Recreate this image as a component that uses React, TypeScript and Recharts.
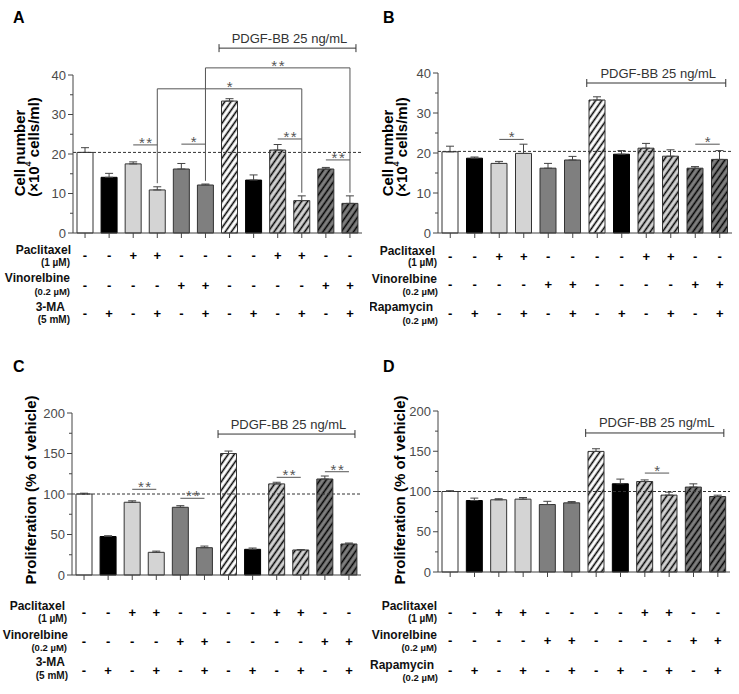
import React from 'react'
import { BarChart, Bar, XAxis, YAxis, Cell, ErrorBar, ReferenceLine } from 'recharts'

const FONT = 'Arial, "Liberation Sans", Helvetica, sans-serif'

// treatment groups, left to right
const groups = ['G1', 'G2', 'G3', 'G4', 'G5', 'G6', 'G7', 'G8', 'G9', 'G10', 'G11', 'G12']
const paclitaxelSigns = ['-', '-', '+', '+', '-', '-', '-', '-', '+', '+', '-', '-']
const vinorelbineSigns = ['-', '-', '-', '-', '+', '+', '-', '-', '-', '-', '+', '+']
const inhibitorSigns = ['-', '+', '-', '+', '-', '+', '-', '+', '-', '+', '-', '+']
const barKinds = ['white', 'black', 'light', 'light', 'mid', 'mid', 'hatchWhite', 'black', 'hatchLight', 'hatchLight', 'hatchMid', 'hatchMid']

// A: cell number with 3-MA
const cellNumber3MA = [20.4, 14.1, 17.5, 10.9, 16.2, 12.15, 33.4, 13.4, 21.0, 8.2, 16.2, 7.5]
const cellNumber3MAErr = [1.2, 1.0, 0.5, 0.8, 1.4, 0.25, 0.6, 1.3, 1.4, 1.2, 0.4, 1.9]
// B: cell number with rapamycin
const cellNumberRapa = [20.3, 18.7, 17.4, 19.9, 16.2, 18.25, 33.25, 19.7, 21.2, 19.2, 16.2, 18.4]
const cellNumberRapaErr = [1.4, 0.3, 0.5, 2.3, 1.2, 0.9, 0.8, 0.9, 1.2, 1.6, 0.4, 2.2]
// C: proliferation with 3-MA
const prolif3MA = [100, 47.5, 89.8, 28, 83.6, 33.7, 150, 31.7, 112.5, 30.9, 118.5, 38.3]
const prolif3MAErr = [1, 1, 1.8, 1.5, 2, 2, 3, 1.6, 2, 0.5, 3.7, 1.2]
// D: proliferation with rapamycin
const prolifRapa = [100, 88.8, 89.7, 90.5, 83.8, 85.9, 149.8, 109.6, 112.4, 95.5, 105.5, 93.8]
const prolifRapaErr = [1, 3, 1.3, 2, 4, 1.6, 3.3, 5.8, 2, 3.7, 4, 1.6]

const cellTicks = [0, 5, 10, 15, 20, 25, 30, 35, 40]
const prolifTicks = [0, 25, 50, 75, 100, 125, 150, 175, 200]

const pdgfLabel = 'PDGF-BB 25 ng/mL'

type Sig = { from: number; to: number; y: number; label: string; drops?: [number, number][] }

const sigA: Sig[] = [
  { from: 3, to: 4, y: 22.3, label: '**' },
  { from: 4, to: 10, y: 36.5, label: '*', drops: [[4, 12.6], [10, 10.2]] },
  { from: 5, to: 6, y: 22.5, label: '*' },
  { from: 6, to: 12, y: 41.8, label: '**', drops: [[6, 13.2], [12, 10.2]] },
  { from: 9, to: 10, y: 23.8, label: '**' },
  { from: 11, to: 12, y: 18.5, label: '**' },
]
const sigB: Sig[] = [
  { from: 3, to: 4, y: 23.4, label: '*' },
  { from: 11, to: 12, y: 22.2, label: '*' },
]
const sigC: Sig[] = [
  { from: 3, to: 4, y: 105.8, label: '**' },
  { from: 5, to: 6, y: 94.7, label: '**' },
  { from: 9, to: 10, y: 120.6, label: '**' },
  { from: 11, to: 12, y: 127.5, label: '**' },
]
const sigD: Sig[] = [{ from: 9, to: 10, y: 122.9, label: '*' }]

type RowLabel = { text: string; y: number; right: number; size: number }

const rowsA: RowLabel[] = [
  { text: 'Paclitaxel', y: 250, right: 71, size: 12 },
  { text: '(1 µM)', y: 262.5, right: 70, size: 10 },
  { text: 'Vinorelbine', y: 278, right: 70, size: 12 },
  { text: '(0.2 µM)', y: 291, right: 70, size: 9.5 },
  { text: '3-MA', y: 307, right: 65, size: 12 },
  { text: '(5 mM)', y: 319, right: 70, size: 10 },
]
const rowsB: RowLabel[] = [
  { text: 'Paclitaxel', y: 251, right: 65, size: 12 },
  { text: '(1 µM)', y: 262.5, right: 67, size: 10 },
  { text: 'Vinorelbine', y: 279, right: 67, size: 12 },
  { text: '(0.2 µM)', y: 291, right: 68, size: 9.5 },
  { text: 'Rapamycin', y: 307, right: 63, size: 12 },
  { text: '(0.2 µM)', y: 320, right: 68, size: 9.5 },
]
const rowsC: RowLabel[] = [
  { text: 'Paclitaxel', y: 266, right: 65, size: 12 },
  { text: '(1 µM)', y: 278, right: 67, size: 10 },
  { text: 'Vinorelbine', y: 295, right: 68, size: 12 },
  { text: '(0.2 µM)', y: 307, right: 67, size: 9.5 },
  { text: '3-MA', y: 322, right: 65, size: 12 },
  { text: '(5 mM)', y: 335, right: 68, size: 10 },
]
const rowsD: RowLabel[] = [
  { text: 'Paclitaxel', y: 266, right: 67, size: 12 },
  { text: '(1 µM)', y: 278, right: 67, size: 10 },
  { text: 'Vinorelbine', y: 295, right: 67, size: 12 },
  { text: '(0.2 µM)', y: 307, right: 67, size: 9.5 },
  { text: 'Rapamycin', y: 325, right: 64, size: 12 },
  { text: '(0.2 µM)', y: 337, right: 68, size: 9.5 },
]

const solidFills: Record<string, string> = {
  white: '#ffffff',
  black: '#000000',
  light: '#d4d4d4',
  mid: '#7f7f7f',
}
const hatchBg: Record<string, string> = {
  hatchWhite: '#ffffff',
  hatchLight: '#d4d4d4',
  hatchMid: '#7f7f7f',
}

function fillFor(kind: string, id: string) {
  if (solidFills[kind]) return solidFills[kind]
  return `url(#${id}-${kind})`
}

const YTick = (major: number) => (props: any) => {
  const { x, y, payload } = props
  const isMajor = payload.value % major === 0
  return (
    <g>
      <line x1={x - (isMajor ? 5 : 3)} x2={x} y1={y} y2={y} stroke="#444" />
      {isMajor && (
        <text x={x - 7} y={y} textAnchor="end" dominantBaseline="central" fontSize={13} fill="#4a4a4a" fontFamily={FONT}>
          {payload.value}
        </text>
      )}
    </g>
  )
}

const SignTick = (rowOffsets: number[]) => (props: any) => {
  const { x, y, index } = props
  const rows = [paclitaxelSigns, vinorelbineSigns, inhibitorSigns]
  return (
    <g>
      <line x1={x} x2={x} y1={y} y2={y + 5} stroke="#444" />
      {rows.map((r, k) => (
        <text key={k} x={x} y={y + rowOffsets[k]} textAnchor="middle" dominantBaseline="central" fontSize={13} fontWeight="bold" fill="#000" fontFamily={FONT}>
          {r[index]}
        </text>
      ))}
    </g>
  )
}

const sigShape = (label: string) => (p: any) => {
  const { x1, y1, x2 } = p
  return (
    <g>
      <line x1={x1} x2={x2} y1={y1} y2={y1} stroke="#555" strokeWidth={1} />
      <text x={(x1 + x2) / 2 + 1} y={y1 + 3} textAnchor="middle" fontSize={15} fill="#555" letterSpacing={1.5} fontFamily={FONT}>
        {label}
      </text>
    </g>
  )
}

const pdgfShape = (p: any) => {
  const { x1, y1, x2 } = p
  const left = x1 - 10.5
  const right = x2 + 6
  return (
    <g>
      <line x1={left} x2={right} y1={y1} y2={y1} stroke="#333" strokeWidth={1} />
      <line x1={left} x2={left} y1={y1 - 4} y2={y1 + 4} stroke="#333" strokeWidth={1} />
      <line x1={right} x2={right} y1={y1 - 4} y2={y1 + 4} stroke="#333" strokeWidth={1} />
      <text x={(left + right) / 2 + 2} y={y1 - 5.5} textAnchor="middle" fontSize={13} fill="#333" fontFamily={FONT}>
        {pdgfLabel}
      </text>
    </g>
  )
}

type PanelProps = {
  id: string
  left: number
  top: number
  width: number
  height: number
  marginTop: number
  marginRight: number
  yWidth: number
  ticks: number[]
  major: number
  values: number[]
  errors: number[]
  vehicle: number
  pdgfY: number
  sigs: Sig[]
  rowOffsets: number[]
  rows: RowLabel[]
  letterY: number
  yTitle: React.ReactNode
}

function Panel(props: PanelProps) {
  const { id, values, errors, ticks } = props
  const data = groups.map((g, i) => ({ group: g, value: values[i], err: [0, errors[i]] }))
  return (
    <div style={{ position: 'absolute', left: props.left, top: props.top, width: props.width, height: 354 }}>
      <BarChart
        width={props.width}
        height={props.height}
        data={data}
        margin={{ top: props.marginTop, right: props.marginRight, bottom: 0, left: 0 }}
        barCategoryGap={0}
      >
        <defs>
          {Object.keys(hatchBg).map((k) => (
            <pattern key={k} id={`${id}-${k}`} patternUnits="userSpaceOnUse" width={5} height={5} patternTransform="rotate(35)">
              <rect width={5} height={5} fill={hatchBg[k]} />
              <line x1={2.5} y1={0} x2={2.5} y2={5} stroke="#000" strokeWidth={1.6} />
            </pattern>
          ))}
        </defs>
        <XAxis
          dataKey="group"
          height={110}
          interval={0}
          tickLine={false}
          tickSize={0}
          tickMargin={0}
          axisLine={{ stroke: '#444' }}
          tick={SignTick(props.rowOffsets)}
        />
        <YAxis
          width={props.yWidth}
          domain={[ticks[0], ticks[ticks.length - 1]]}
          ticks={ticks}
          interval={0}
          tickLine={false}
          tickSize={0}
          tickMargin={0}
          axisLine={{ stroke: '#444' }}
          tick={YTick(props.major)}
        />
        <Bar dataKey="value" barSize={16} isAnimationActive={false}>
          {data.map((d, i) => (
            <Cell key={d.group} fill={fillFor(barKinds[i], id)} stroke={barKinds[i] === 'black' ? '#000' : '#333'} strokeWidth={1} />
          ))}
          <ErrorBar dataKey="err" width={4} stroke="#444" strokeWidth={1} isAnimationActive={false} />
        </Bar>
        <ReferenceLine y={props.vehicle} stroke="#333" strokeDasharray="3 2" strokeWidth={1} />
        <ReferenceLine
          segment={[{ x: groups[6], y: props.pdgfY }, { x: groups[11], y: props.pdgfY }]}
          ifOverflow="visible"
          shape={pdgfShape}
        />
        {props.sigs.map((s, k) => (
          <ReferenceLine
            key={`s${k}`}
            segment={[{ x: groups[s.from - 1], y: s.y }, { x: groups[s.to - 1], y: s.y }]}
            ifOverflow="visible"
            shape={sigShape(s.label)}
          />
        ))}
        {props.sigs.flatMap((s, k) =>
          (s.drops || []).map(([bar, end], j) => (
            <ReferenceLine
              key={`d${k}-${j}`}
              segment={[{ x: groups[bar - 1], y: s.y }, { x: groups[bar - 1], y: end }]}
              ifOverflow="visible"
              stroke="#555"
              strokeWidth={1}
            />
          ))
        )}
      </BarChart>
      <svg width={props.width} height={354} style={{ position: 'absolute', left: 0, top: 0, pointerEvents: 'none' }} fontFamily={FONT}>
        <text x={13} y={props.letterY} fontSize={16} fontWeight="bold" fill="#000">
          {id}
        </text>
        {props.yTitle}
        {props.rows.map((r, k) => (
          <text key={k} x={r.right} y={r.y} textAnchor="end" dominantBaseline="central" fontSize={r.size} fontWeight="bold" fill="#111">
            {r.text}
          </text>
        ))}
      </svg>
    </div>
  )
}

const cellTitle = (x1: number, x2: number) => (
  <g>
    <text x={x1} y={153} transform={`rotate(-90 ${x1} 153)`} textAnchor="middle" dominantBaseline="central" fontSize={15} fontWeight="bold" fill="#000">
      Cell number
    </text>
    <text x={x2} y={147} transform={`rotate(-90 ${x2} 147)`} textAnchor="middle" dominantBaseline="central" fontSize={15} fontWeight="bold" fill="#000">
      (×10<tspan fontSize={9} dy={-5}>4</tspan>
      <tspan dy={5}> cells/ml)</tspan>
    </text>
  </g>
)

const prolifTitle = (x: number) => (
  <text x={x} y={150} transform={`rotate(-90 ${x} 150)`} textAnchor="middle" dominantBaseline="central" fontSize={15} fontWeight="bold" fill="#000">
    Proliferation (% of vehicle)
  </text>
)

export default function App() {
  return (
    <div style={{ position: 'relative', width: 739, height: 694, background: '#fff', fontFamily: FONT, overflow: 'hidden' }}>
      <style>{'body{margin:0}'}</style>
      <Panel
        id="A"
        left={0}
        top={0}
        width={370}
        height={343}
        marginTop={75}
        marginRight={8}
        yWidth={73}
        ticks={cellTicks}
        major={10}
        values={cellNumber3MA}
        errors={cellNumber3MAErr}
        vehicle={20.4}
        pdgfY={46.8}
        sigs={sigA}
        rowOffsets={[22, 52, 80]}
        rows={rowsA}
        letterY={23}
        yTitle={cellTitle(19, 33)}
      />
      <Panel
        id="B"
        left={370}
        top={0}
        width={369}
        height={343}
        marginTop={73}
        marginRight={7}
        yWidth={68}
        ticks={cellTicks}
        major={10}
        values={cellNumberRapa}
        errors={cellNumberRapaErr}
        vehicle={20.4}
        pdgfY={37.5}
        sigs={sigB}
        rowOffsets={[23, 51, 80]}
        rows={rowsB}
        letterY={23}
        yTitle={cellTitle(17, 31)}
      />
      <Panel
        id="C"
        left={0}
        top={340}
        width={370}
        height={345}
        marginTop={73}
        marginRight={9}
        yWidth={72}
        ticks={prolifTicks}
        major={50}
        values={prolif3MA}
        errors={prolif3MAErr}
        vehicle={100}
        pdgfY={174}
        sigs={sigC}
        rowOffsets={[37, 66, 95]}
        rows={rowsC}
        letterY={32}
        yTitle={prolifTitle(30)}
      />
      <Panel
        id="D"
        left={370}
        top={340}
        width={369}
        height={342}
        marginTop={71}
        marginRight={9}
        yWidth={68}
        ticks={prolifTicks}
        major={50}
        values={prolifRapa}
        errors={prolifRapaErr}
        vehicle={100}
        pdgfY={172.7}
        sigs={sigD}
        rowOffsets={[40, 68, 98]}
        rows={rowsD}
        letterY={32}
        yTitle={prolifTitle(29)}
      />
    </div>
  )
}
